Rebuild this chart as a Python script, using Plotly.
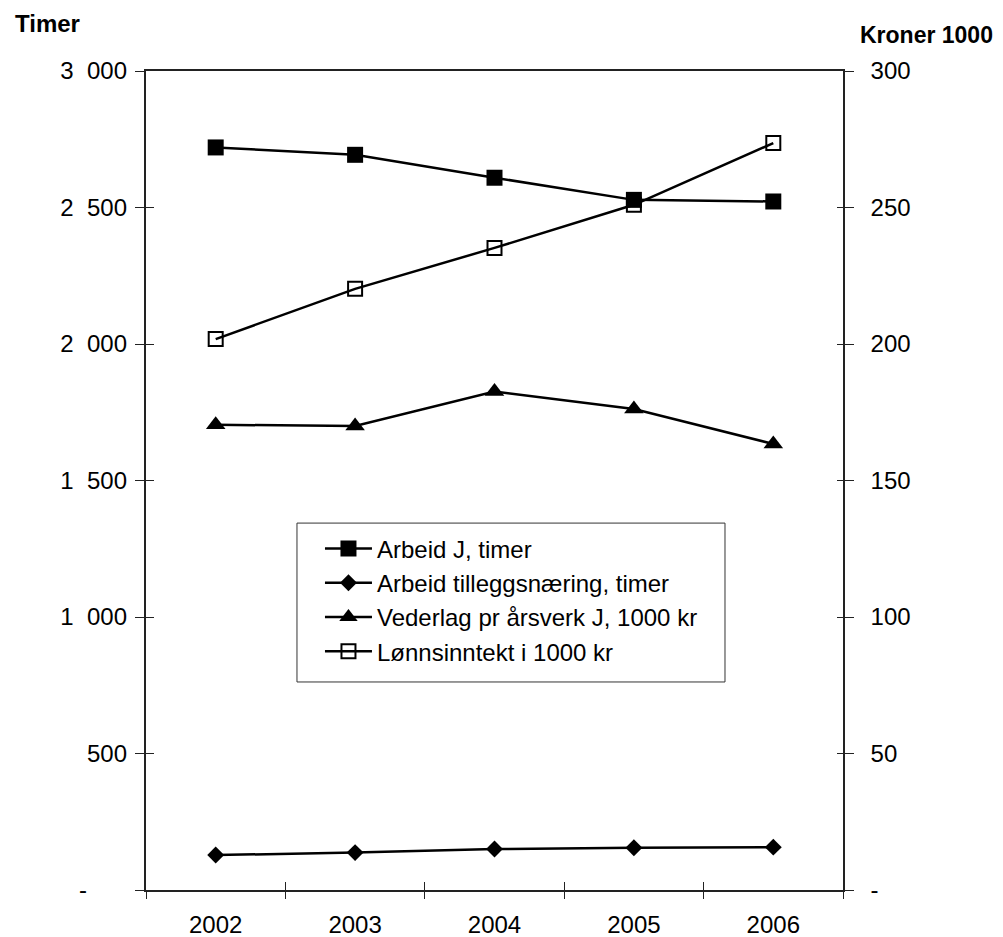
import plotly.graph_objects as go

years = ["2002", "2003", "2004", "2005", "2006"]
arbeid_j = [2720, 2693, 2609, 2528, 2522]
arbeid_tillegg = [128, 137, 150, 155, 157]
vederlag = [170.4, 170.0, 182.6, 176.2, 163.4]
lonnsinntekt = [201.8, 220.2, 235.2, 251.0, 273.6]

left_ticks = [0, 500, 1000, 1500, 2000, 2500, 3000]
left_text = ["-" + "\u00a0" * 6, "500", "1\u00a0\u00a0000", "1\u00a0\u00a0500", "2\u00a0\u00a0000",
             "2\u00a0\u00a0500", "3\u00a0\u00a0000"]
right_ticks = [0, 50, 100, 150, 200, 250, 300]
right_text = ["-", "50", "100", "150", "200", "250", "300"]

FONT = "Liberation Sans, Arial, sans-serif"
BLACK = "#000000"
AX = "#222222"

fig = go.Figure()
line = dict(color=BLACK, width=2.5)
fig.add_trace(go.Scatter(x=years, y=arbeid_j, name="Arbeid J, timer", mode="lines+markers",
                         line=line, marker=dict(symbol="square", size=16, color=BLACK)))
fig.add_trace(go.Scatter(x=years, y=arbeid_tillegg, name="Arbeid tilleggsnæring, timer", mode="lines+markers",
                         line=line, marker=dict(symbol="diamond", size=13, color=BLACK)))
fig.add_trace(go.Scatter(x=years, y=vederlag, name="Vederlag pr årsverk J, 1000 kr", mode="lines+markers",
                         yaxis="y2", line=line, marker=dict(symbol="triangle-up", size=17, color=BLACK)))
fig.add_trace(go.Scatter(x=years, y=lonnsinntekt, name="Lønnsinntekt i 1000 kr", mode="lines+markers",
                         yaxis="y2", line=line,
                         marker=dict(symbol="square-open", size=14, color=BLACK, line=dict(width=2, color=BLACK))))
# dummy traces so the overlay axes (inside tick halves) are drawn
fig.add_trace(go.Scatter(x=[None], y=[None], xaxis="x2", yaxis="y3", showlegend=False, hoverinfo="skip"))
fig.add_trace(go.Scatter(x=[None], y=[None], xaxis="x2", yaxis="y4", showlegend=False, hoverinfo="skip"))

tickfont = dict(family=FONT, size=24, color=BLACK)

fig.update_layout(
    width=995, height=929,
    margin=dict(l=138, r=160, t=63, b=47, autoexpand=False),
    paper_bgcolor="white", plot_bgcolor="white",
    showlegend=True,
    legend=dict(x=0.2496, y=0.4439, xanchor="left", yanchor="top",
                borderwidth=0, bgcolor="rgba(0,0,0,0)",
                font=dict(family=FONT, size=24, color=BLACK),
                tracegroupgap=0, itemwidth=47),
    shapes=[dict(type="rect", xref="paper", yref="paper", x0=0.2166, x1=0.8307, y0=0.254, y1=0.448,
                 line=dict(color="#333333", width=1), fillcolor="rgba(0,0,0,0)", layer="above")],
    xaxis=dict(type="category", categoryorder="array", categoryarray=years,
               range=[-0.5, 4.5], tickson="boundaries", ticks="outside", ticklen=7,
               tickcolor=AX, tickwidth=1, showline=True, linecolor=AX, linewidth=1.5,
               mirror=True, showgrid=False, zeroline=False, tickfont=tickfont,
               ticklabelstandoff=12, automargin=False),
    xaxis2=dict(overlaying="x", anchor="y", range=[-0.5, 4.5], tickvals=[-0.5, 0.5, 1.5, 2.5, 3.5, 4.5],
                ticks="inside", ticklen=8, tickcolor=AX, tickwidth=1, showticklabels=False,
                showline=False, showgrid=False, zeroline=False, side="bottom", automargin=False),
    yaxis=dict(range=[0, 3000], tickvals=left_ticks, ticks="outside", ticklen=9,
               tickcolor=AX, tickwidth=1, showline=True, linecolor=AX, linewidth=1.5,
               showgrid=False, zeroline=False, showticklabels=False, automargin=False),
    yaxis2=dict(range=[0, 300], tickvals=right_ticks, ticktext=right_text, overlaying="y", side="right",
                anchor="x", ticks="outside", ticklen=9, tickcolor=AX, tickwidth=1, showline=True,
                linecolor=AX, linewidth=1.5, showgrid=False, zeroline=False, tickfont=tickfont,
                ticklabelstandoff=12, automargin=False),
    yaxis3=dict(range=[0, 3000], tickvals=left_ticks, ticktext=left_text, overlaying="y", side="left",
                anchor="x2", ticks="inside", ticklen=8, tickcolor=AX, tickwidth=1, showticklabels=True,
                tickfont=tickfont, ticklabelstandoff=18,
                showline=False, showgrid=False, zeroline=False, automargin=False),
    yaxis4=dict(range=[0, 300], tickvals=right_ticks, overlaying="y", side="right", anchor="x2",
                ticks="inside", ticklen=6, tickcolor=AX, tickwidth=1, showticklabels=False,
                showline=False, showgrid=False, zeroline=False, automargin=False),
    annotations=[
        dict(text="<b>Timer</b>", xref="paper", yref="paper", x=-0.1908, y=1.0586,
             xanchor="left", yanchor="middle", showarrow=False,
             font=dict(family=FONT, size=24, color=BLACK)),
        dict(text="<b>Kroner 1000</b>", xref="paper", yref="paper", x=1.0215, y=1.044,
             xanchor="left", yanchor="middle", showarrow=False,
             font=dict(family=FONT, size=23, color=BLACK)),
    ],
)

fig.write_html("out.html")
